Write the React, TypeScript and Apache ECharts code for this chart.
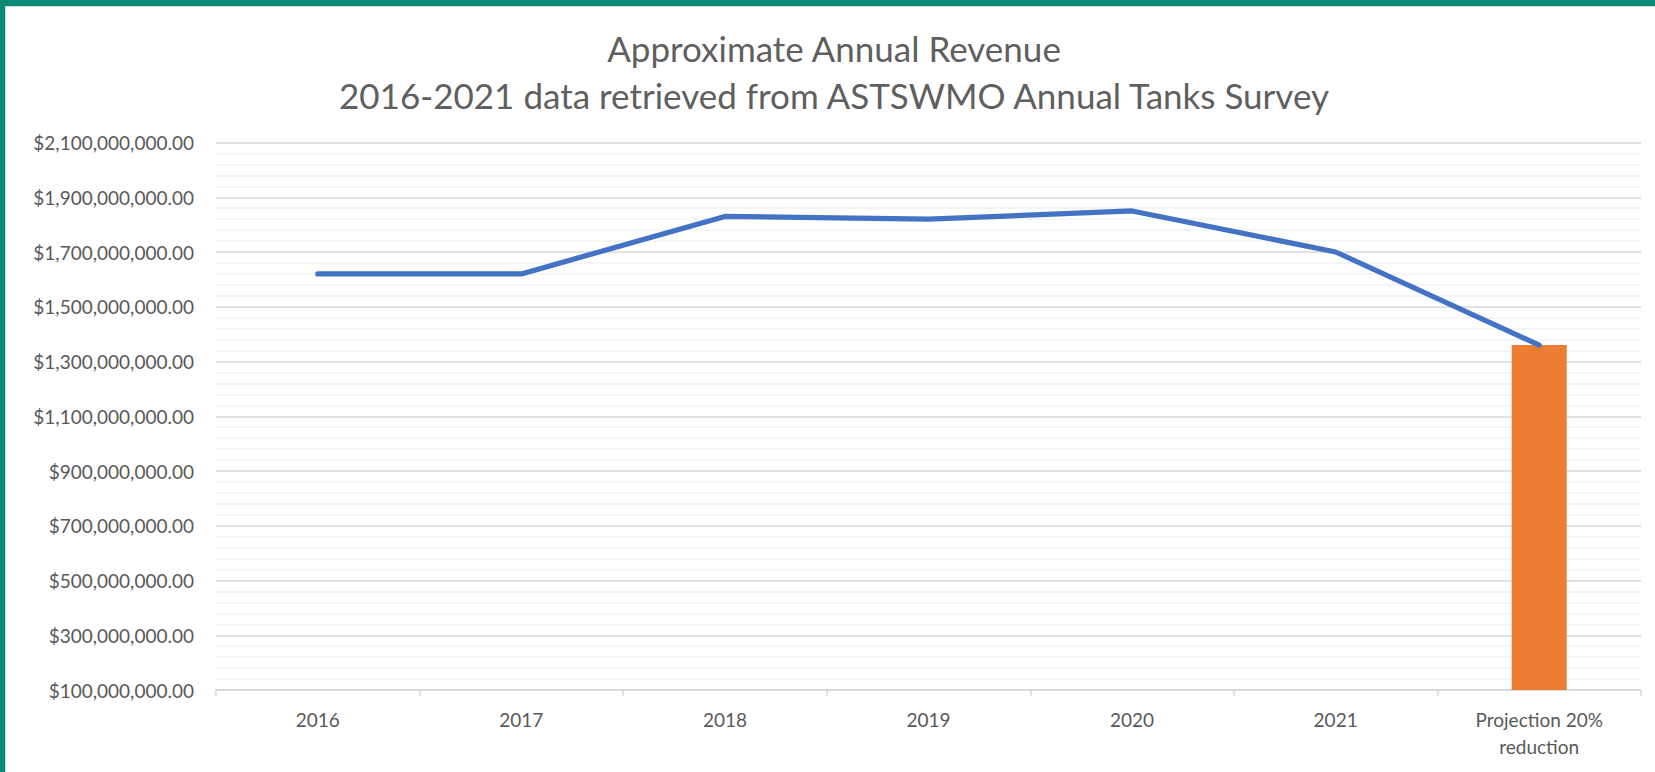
import React, { useEffect, useRef } from "react";
import * as echarts from "echarts";

const categories = ["2016", "2017", "2018", "2019", "2020", "2021", "Projection 20%\nreduction"];
const revenueLine = [1620000000, 1620000000, 1830000000, 1820000000, 1850000000, 1700000000, 1360000000];
const projectionBar = [null, null, null, null, null, null, 1360000000];
const titleLines = ["Approximate Annual Revenue", "2016-2021 data retrieved from ASTSWMO Annual Tanks Survey"];

const fmtMoney = (v: number) =>
  "$" + v.toLocaleString("en-US", { minimumFractionDigits: 2, maximumFractionDigits: 2 });

export default function App() {
  const ref = useRef<HTMLDivElement>(null);
  useEffect(() => {
    if (!ref.current) return;
    document.body.style.margin = "0";
    const chart = echarts.init(ref.current, null, { renderer: "svg" });
    const font = "Lato";
    chart.setOption({
      animation: false,
      backgroundColor: "#ffffff",
      textStyle: { fontFamily: font },
      title: {
        text: titleLines.join("\n"),
        left: 834,
        textAlign: "center",
        top: 24,
        padding: 0,
        textStyle: {
          fontFamily: font,
          fontSize: 35,
          fontWeight: "normal",
          color: "#5f5f5f",
          lineHeight: 47.5,
        },
      },
      graphic: [
        { type: "rect", shape: { x: 0, y: 0, width: 1655, height: 6 }, style: { fill: "#088a77" }, z: 100 },
        { type: "rect", shape: { x: 0, y: 0, width: 5, height: 772 }, style: { fill: "#088a77" }, z: 100 },
        { type: "rect", shape: { x: 5, y: 6, width: 1650, height: 1 }, style: { fill: "#d6d6d6" }, z: 100 },
        { type: "rect", shape: { x: 5, y: 6, width: 1, height: 766 }, style: { fill: "#d6d6d6" }, z: 100 },
      ],
      grid: { left: 216, right: 14, top: 142.5, bottom: 82, containLabel: false },
      xAxis: {
        type: "category",
        data: categories,
        boundaryGap: true,
        axisLine: { show: true, lineStyle: { color: "#d9d9d9", width: 1.5 } },
        axisTick: { show: true, length: 6, lineStyle: { color: "#d9d9d9", width: 1.5 } },
        axisLabel: { color: "#595959", fontSize: 19, fontFamily: font, margin: 16, lineHeight: 27 },
        splitLine: { show: false },
      },
      yAxis: {
        type: "value",
        min: 100000000,
        max: 2100000000,
        interval: 200000000,
        axisLine: { show: false },
        axisTick: { show: false },
        axisLabel: { color: "#595959", fontSize: 19, fontFamily: font, margin: 22, formatter: fmtMoney },
        splitLine: { show: true, lineStyle: { color: "#d9d9d9", width: 1.5 } },
        minorTick: { show: false, splitNumber: 5 },
        minorSplitLine: { show: true, lineStyle: { color: "#f2f2f2", width: 1.5 } },
      },
      series: [
        {
          name: "Projection",
          type: "bar",
          data: projectionBar,
          barWidth: 55,
          itemStyle: { color: "#ED7D31" },
          z: 2,
        },
        {
          name: "Revenue",
          type: "line",
          data: revenueLine,
          symbol: "none",
          lineStyle: { color: "#4472C4", width: 5.2, cap: "round", join: "round" },
          z: 3,
        },
      ],
    });
    return () => chart.dispose();
  }, []);
  return <div ref={ref} style={{ position: "fixed", left: 0, top: 0, width: 1655, height: 772 }} />;
}
